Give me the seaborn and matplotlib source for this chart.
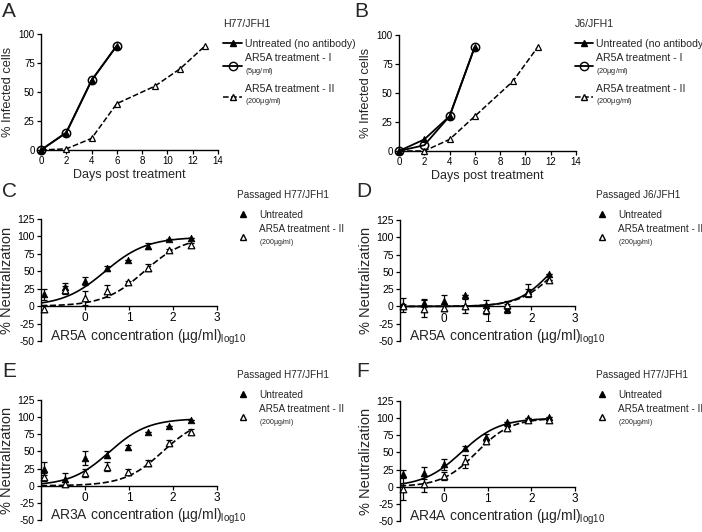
import numpy as np
import seaborn as sns
import matplotlib.pyplot as plt
from matplotlib.lines import Line2D

sns.set_style("ticks")
plt.rcParams['font.family'] = ['Liberation Sans', 'DejaVu Sans']
plt.rcParams['mathtext.fontset'] = 'custom'
plt.rcParams['mathtext.rm'] = 'Liberation Sans'
plt.rcParams['axes.unicode_minus'] = False

# ---- A / B : % infected cells over time
a_days_ut = [0, 2, 4, 6]
a_inf_ut = [0, 15, 60, 90]
a_days_t1 = [0, 2, 4, 6]
a_inf_t1 = [0, 15, 60, 90]
a_days_t2 = [0, 2, 4, 6, 9, 11, 13]
a_inf_t2 = [0, 1, 10, 40, 55, 70, 90]

b_days_ut = [0, 2, 4, 6]
b_inf_ut = [0, 10, 30, 90]
b_days_t1 = [0, 2, 4, 6]
b_inf_t1 = [0, 5, 30, 90]
b_days_t2 = [0, 2, 4, 6, 9, 11]
b_inf_t2 = [0, 0, 10, 30, 60, 90]

# ---- C-F : % neutralization vs log10 concentration
conc = [-0.94, -0.46, 0.01, 0.49, 0.97, 1.44, 1.92, 2.40]

c_ut = [17, 27, 36, 54, 66, 86, 97, 98]
c_ut_err = [8, 6, 6, 3, 0, 4, 0, 0]
c_t2 = [-4, 23, 12, 22, 34, 55, 80, 88]
c_t2_err = [5, 6, 10, 9, 2, 5, 2, 3]

d_ut = [2, 5, 8, 17, 2, -3, 23, 47]
d_ut_err = [10, 6, 8, 0, 8, 7, 10, 0]
d_t2 = [0, -3, -2, 1, -5, 2, 20, 38]
d_t2_err = [3, 13, 5, 10, 6, 6, 5, 0]

e_ut = [25, 10, 40, 45, 56, 78, 87, 96]
e_ut_err = [10, 9, 10, 5, 4, 0, 0, 0]
e_t2 = [13, 3, 18, 28, 20, 33, 63, 79]
e_t2_err = [6, 3, 6, 6, 5, 4, 4, 3]

f_ut = [19, 20, 33, 57, 72, 94, 100, 101]
f_ut_err = [6, 9, 8, 3, 5, 0, 0, 0]
f_t2 = [-3, 4, 16, 37, 66, 85, 98, 97]
f_t2_err = [17, 12, 6, 9, 4, 3, 0, 0]

# fitted curve parameters: (logEC50, hill slope, top)
c_fit = [(0.45, 0.91, 99), (1.35, 0.95, 100)]
d_fit = [(2.46, 1.14, 100), (2.56, 1.07, 100)]
e_fit = [(0.55, 0.99, 98), (1.77, 1.0, 100)]
f_fit = [(0.40, 1.0, 100), (0.75, 1.1, 100)]

W, H = 702, 532
fig = plt.figure(figsize=(W / 100, H / 100), dpi=100)


def px_axes(left, top, right, bottom):
    return fig.add_axes([left / W, 1 - bottom / H, (right - left) / W, (bottom - top) / H])


def style_axes(ax):
    sns.despine(ax=ax)
    for s in ['left', 'bottom']:
        ax.spines[s].set_linewidth(1.0)
        ax.spines[s].set_color('black')
    ax.tick_params(direction='out', length=3, width=0.9, labelsize=7, pad=1.5, colors='black')


def two_line(main, sub):
    return main + '\n' + r'${}_{\mathregular{' + sub + '}}$'


def time_panel(ax, ut, t1, t2, t1_sub):
    sns.lineplot(x=t2[0], y=t2[1], ax=ax, color='black', linestyle='--', lw=1.1,
                 marker='^', markersize=5, markerfacecolor='white', markeredgecolor='black',
                 markeredgewidth=0.9, zorder=3)
    sns.lineplot(x=ut[0], y=ut[1], ax=ax, color='black', lw=1.3,
                 marker='^', markersize=5, markerfacecolor='black', markeredgecolor='black', zorder=4)
    sns.lineplot(x=t1[0], y=t1[1], ax=ax, color='black', lw=1.3,
                 marker='o', markersize=6, markerfacecolor='none', markeredgecolor='black',
                 markeredgewidth=1.1, zorder=5)
    ax.set_xlim(0, 14)
    ax.set_ylim(0, 100)
    ax.set_xticks(range(0, 15, 2))
    ax.set_yticks([0, 25, 50, 75, 100])
    ax.set_xlabel('Days post treatment', fontsize=9, labelpad=2)
    ax.set_ylabel('% Infected cells', fontsize=9.3, labelpad=3)
    style_axes(ax)
    for line in ax.lines:
        line.set_clip_on(False)
    handles = [
        Line2D([], [], color='black', lw=1.3, marker='^', markersize=5, markerfacecolor='black'),
        Line2D([], [], color='black', lw=1.3, marker='o', markersize=6, markerfacecolor='none'),
        Line2D([], [], color='black', lw=1.1, ls='--', marker='^', markersize=5, markerfacecolor='white'),
    ]
    labels = ['Untreated (no antibody)',
              two_line('AR5A treatment - I', t1_sub),
              two_line('AR5A treatment - II', '(200µg/ml)')]
    return handles, labels


def logistic(x, p):
    ec50, hill, top = p
    return top / (1 + 10 ** ((ec50 - x) * hill))


def neut_panel(ax, ut, ut_err, t2, t2_err, fit, xlabel):
    xs = np.linspace(-1, conc[-1], 200)
    sns.lineplot(x=xs, y=logistic(xs, fit[0]), ax=ax, color='black', lw=1.2, zorder=2)
    sns.lineplot(x=xs, y=logistic(xs, fit[1]), ax=ax, color='black', lw=1.2, linestyle='--', zorder=2)
    ax.errorbar(conc, ut, yerr=ut_err, fmt='none', ecolor='black', elinewidth=0.9,
                capsize=2.2, capthick=0.9, zorder=3)
    ax.errorbar(conc, t2, yerr=t2_err, fmt='none', ecolor='black', elinewidth=0.9,
                capsize=2.2, capthick=0.9, zorder=3)
    sns.scatterplot(x=conc, y=ut, ax=ax, marker='^', s=22, color='black', edgecolor='black',
                    linewidth=0.6, zorder=4)
    sns.scatterplot(x=conc, y=t2, ax=ax, marker='^', s=22, facecolor='white', edgecolor='black',
                    linewidth=0.9, zorder=5)
    ax.set_xlim(-1, 3)
    ax.set_ylim(-50, 125)
    ax.set_xticks([0, 1, 2, 3])
    ax.set_yticks(range(-50, 126, 25))
    ax.spines['bottom'].set_position(('data', 0))
    ax.set_xlabel('')
    ax.set_ylabel('% Neutralization', fontsize=10.5, labelpad=2)
    style_axes(ax)
    ax.tick_params(axis='x', labelsize=8.5)
    ax.tick_params(axis='y', labelsize=7.5)
    ax.text(0.05, 0.03, xlabel + r'$_{\mathregular{log10}}$', transform=ax.transAxes,
            fontsize=10, ha='left', va='center')
    for c in ax.collections:
        c.set_clip_on(False)
    handles = [
        Line2D([], [], ls='none', marker='^', markersize=4.5, markerfacecolor='black', markeredgecolor='black'),
        Line2D([], [], ls='none', marker='^', markersize=4.5, markerfacecolor='white', markeredgecolor='black'),
    ]
    labels = ['Untreated', two_line('AR5A treatment - II', '(200µg/ml)')]
    return handles, labels


def add_legend(ax, handles, labels, title, x, y, hlen, textpad, size):
    leg = ax.legend(handles, labels, title=title, loc='upper left',
                    bbox_to_anchor=(x / W, 1 - y / H), bbox_transform=fig.transFigure,
                    frameon=False, fontsize=size, title_fontsize=size, alignment='left',
                    borderpad=0, borderaxespad=0, handlelength=hlen, handletextpad=textpad,
                    labelspacing=0.45)
    leg._legend_box.sep = 7
    return leg


axA = px_axes(41, 34, 218, 150)
h, l = time_panel(axA, (a_days_ut, a_inf_ut), (a_days_t1, a_inf_t1), (a_days_t2, a_inf_t2), '(5µg/ml)')
add_legend(axA, h, l, 'H77/JFH1', 223, 19, 1.8, 0.3, 7.6)

axB = px_axes(399, 35, 576, 151)
h, l = time_panel(axB, (b_days_ut, b_inf_ut), (b_days_t1, b_inf_t1), (b_days_t2, b_inf_t2), '(20µg/ml)')
add_legend(axB, h, l, 'J6/JFH1', 575, 19, 1.7, 0.3, 7.6)

panels = [
    ((41, 219, 217, 341), c_ut, c_ut_err, c_t2, c_t2_err, c_fit, 'AR5A concentration (µg/ml)',
     'Passaged H77/JFH1', 237, 190),
    ((400, 220, 575, 341), d_ut, d_ut_err, d_t2, d_t2_err, d_fit, 'AR5A concentration (µg/ml)',
     'Passaged J6/JFH1', 596, 190),
    ((41, 400, 217, 520), e_ut, e_ut_err, e_t2, e_t2_err, e_fit, 'AR3A concentration (µg/ml)',
     'Passaged H77/JFH1', 237, 370),
    ((400, 401, 575, 521), f_ut, f_ut_err, f_t2, f_t2_err, f_fit, 'AR4A concentration (µg/ml)',
     'Passaged H77/JFH1', 596, 370),
]
for box, ut, ut_err, t2, t2_err, fit, xlab, title, lx, ly in panels:
    ax = px_axes(*box)
    h, l = neut_panel(ax, ut, ut_err, t2, t2_err, fit, xlab)
    add_legend(ax, h, l, title, lx, ly, 1.2, 1.0, 7.2)

for letter, x, y in [('A', 2, 2), ('B', 354, 2), ('C', 2, 182), ('D', 356, 182),
                     ('E', 2, 362), ('F', 356, 362)]:
    fig.text(x / W, 1 - y / H, letter, fontsize=15, ha='left', va='top')

fig.savefig('out.png', dpi=100)
